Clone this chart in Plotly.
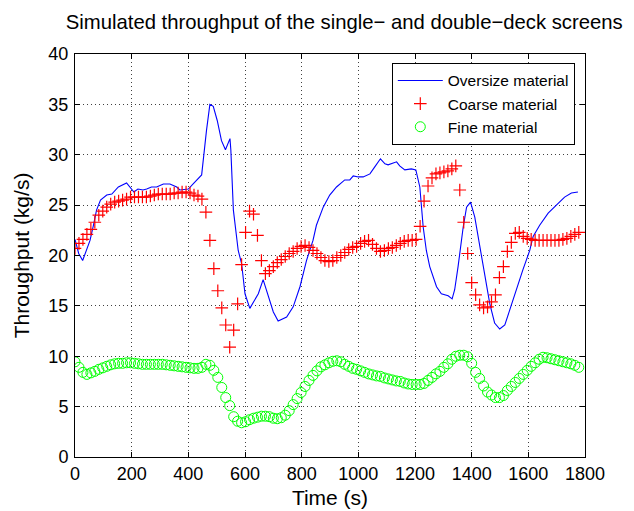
import plotly.graph_objects as go

# ---- data ----
oversize_t = [0, 13, 27, 40, 53, 65, 76, 90, 112, 130, 153, 182, 208, 222, 240, 253, 270, 288, 312, 335,
              359, 370, 400, 417, 447, 464, 476, 488, 502, 517, 531, 547, 550, 559, 576, 588, 600, 617, 627,
              647, 664, 676, 700, 717, 747, 770, 794, 817, 840, 852, 876, 899, 923, 952, 970, 982, 1000,
              1017, 1041, 1058, 1078, 1094, 1105, 1135, 1146, 1164, 1187, 1203, 1217, 1229, 1240, 1252,
              1276, 1293, 1317, 1331, 1340, 1352, 1364, 1370, 1382, 1396, 1411, 1429, 1446, 1464, 1481,
              1499, 1517, 1534, 1558, 1581, 1605, 1617, 1640, 1670, 1699, 1728, 1752, 1775]
oversize_y = [21.6, 20.2, 19.5, 20.5, 21.5, 23.0, 24.5, 25.5, 26.0, 26.1, 26.8, 27.2, 26.3, 26.6, 26.5, 26.6,
              26.8, 26.8, 27.1, 27.1, 26.8, 26.5, 26.6, 27.1, 28.0, 32.4, 35.0, 34.8, 33.4, 31.4, 30.5,
              31.6, 30.5, 24.5, 20.5, 19.2, 16.2, 14.75, 15.2, 16.2, 17.6, 16.6, 14.4, 13.5, 13.9, 14.9,
              16.9, 19.5, 21.5, 23.0, 24.8, 26.0, 26.8, 27.5, 27.5, 27.9, 27.8, 27.8, 28.1, 28.8, 29.6,
              29.1, 29.0, 29.3, 28.9, 28.5, 28.6, 28.5, 26.8, 22.8, 20.5, 18.9, 16.9, 16.2, 16.0, 15.7,
              16.6, 18.9, 21.5, 22.8, 24.8, 25.3, 23.8, 20.9, 18.2, 15.2, 13.3, 12.7, 13.1, 14.6, 16.6,
              18.6, 20.5, 21.9, 23.0, 24.2, 25.0, 25.8, 26.2, 26.3]

sample_step = 14  # s, sampling interval of the marker series

coarse_y = [20.7, 21.2, 21.6, 22.1, 22.6, 23.3, 24.0, 24.4, 24.8, 25.1, 25.3, 25.4, 25.5, 25.6, 25.8, 25.8,
            25.8, 25.8, 25.8, 25.9, 26.0, 26.1, 26.1, 26.1, 26.1, 26.2, 26.2, 26.3, 26.3, 26.2, 26.0, 25.9,
            25.6, 24.3, 21.5, 18.7, 16.5, 14.8, 13.1, 10.9, 12.6, 15.2, 19.1, 22.3, 24.4, 24.1, 22.0, 19.5,
            18.2, 18.5, 18.9, 19.3, 19.6, 19.9, 20.2, 20.4, 20.7, 20.9, 21.0, 20.8, 20.5, 20.2, 19.8, 19.5,
            19.4, 19.5, 19.8, 20.0, 20.3, 20.6, 20.8, 20.9, 21.2, 21.4, 21.5, 21.1, 20.7, 20.4, 20.5, 20.7,
            20.8, 21.0, 21.2, 21.4, 21.5, 21.5, 21.6, 22.9, 25.4, 26.9, 27.7, 28.1, 28.2, 28.3, 28.4, 28.6,
            28.9, 26.5, 23.3, 20.2, 17.3, 16.1, 15.1, 14.8, 14.9, 15.4, 16.1, 17.8, 18.9, 20.4, 21.3, 22.2,
            22.3, 21.9, 21.7, 21.6, 21.5, 21.5, 21.5, 21.5, 21.5, 21.5, 21.5, 21.6, 21.7, 21.9, 22.1, 22.3]

fine_y = [9.45, 8.9, 8.4, 8.2, 8.35, 8.5, 8.7, 8.85, 9.0, 9.15, 9.25, 9.3, 9.3, 9.35, 9.35, 9.3,
          9.25, 9.2, 9.2, 9.2, 9.2, 9.2, 9.2, 9.15, 9.1, 9.05, 9.0, 8.95, 8.9, 8.85, 8.8, 8.8,
          8.9, 9.2, 9.1, 8.6, 7.9, 6.9, 5.9, 5.1, 4.0, 3.55, 3.4, 3.5, 3.7, 3.85, 3.95, 4.05,
          4.05, 4.0, 3.85, 3.8, 3.9, 4.15, 4.6, 5.2, 5.8, 6.4, 7.0, 7.6, 8.1, 8.55, 8.95, 9.15,
          9.35, 9.5, 9.55, 9.45, 9.2, 9.0, 8.8, 8.7, 8.55, 8.4, 8.25, 8.15, 8.05, 8.0, 7.85, 7.75,
          7.65, 7.55, 7.5, 7.35, 7.25, 7.2, 7.2, 7.2, 7.3, 7.6, 7.9, 8.25, 8.5, 8.9, 9.25, 9.7,
          10.0, 10.1, 10.1, 9.95, 9.3, 8.4, 7.8, 7.05, 6.45, 6.15, 5.9, 5.9, 6.1, 6.6, 7.0, 7.4,
          7.8, 8.2, 8.6, 9.0, 9.35, 9.7, 9.9, 9.85, 9.75, 9.65, 9.55, 9.45, 9.35, 9.25, 9.1, 8.9]

coarse_t = [sample_step * i for i in range(len(coarse_y))]
fine_t = [sample_step * i for i in range(len(fine_y))]

x_ticks = [0, 200, 400, 600, 800, 1000, 1200, 1400, 1600, 1800]
y_ticks = [0, 5, 10, 15, 20, 25, 30, 35, 40]

FONT = "Liberation Sans, Arial, sans-serif"

fig = go.Figure()
fig.add_trace(go.Scatter(x=oversize_t, y=oversize_y, mode="lines", name="Oversize material",
                         line=dict(color="#0000ff", width=1.1)))
fig.add_trace(go.Scatter(x=coarse_t, y=coarse_y, mode="markers", name="Coarse material",
                         marker=dict(symbol="cross-thin", size=9, color="#ff0000",
                                     line=dict(color="#ff0000", width=1.2))))
fig.add_trace(go.Scatter(x=fine_t, y=fine_y, mode="markers", name="Fine material",
                         marker=dict(symbol="circle-open", size=10, color="#00ff00",
                                     line=dict(color="#00ff00", width=1))))

axis_common = dict(
    showline=True, linecolor="black", linewidth=1, mirror="ticks",
    ticks="inside", ticklen=5, tickcolor="black",
    showgrid=True, gridcolor="rgba(0,0,0,0.75)", griddash="1px,3px", gridwidth=1,
    zeroline=False, tickfont=dict(family=FONT, size=18, color="black"),
    automargin=False,
)

fig.update_layout(
    width=634, height=511,
    margin=dict(l=75, r=49, t=54, b=54),
    paper_bgcolor="white", plot_bgcolor="white",
    font=dict(family=FONT, color="black"),
    title=dict(text="Simulated throughput of the single\u2212 and double\u2212deck screens",
               x=0.543, xanchor="center", y=0.957, yanchor="middle",
               font=dict(family=FONT, size=20.3, color="black")),
    xaxis=dict(range=[0, 1800], tickvals=x_ticks, ticktext=[str(v) for v in x_ticks],
               ticklabelstandoff=0,
               title=dict(text="Time (s)", font=dict(family=FONT, size=21), standoff=7),
               **axis_common),
    yaxis=dict(range=[0, 40], tickvals=y_ticks, ticktext=[str(v) for v in y_ticks],
               ticklabelstandoff=2,
               title=dict(text="Throughput (kg/s)", font=dict(family=FONT, size=21), standoff=13),
               **axis_common),
    legend=dict(x=0.98, y=0.978, xanchor="right", yanchor="top",
                bgcolor="white", bordercolor="black", borderwidth=1,
                font=dict(family=FONT, size=15.5, color="black"),
                itemwidth=45, tracegroupgap=0),
    showlegend=True,
)

fig.write_html("out.html")
